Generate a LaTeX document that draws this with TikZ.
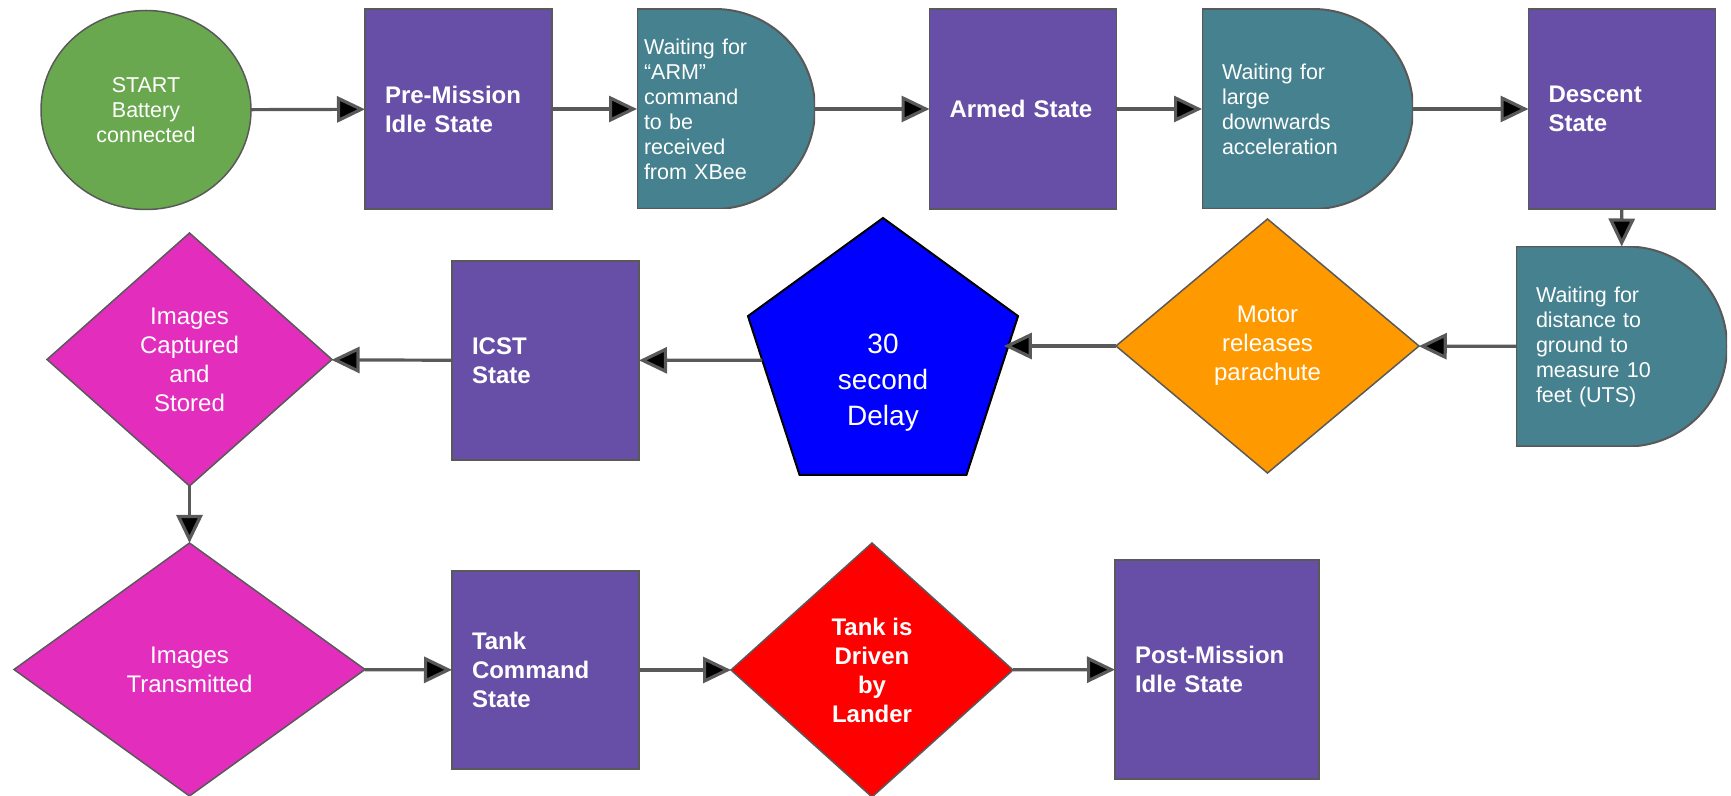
\documentclass[tikz,border=0pt]{standalone}
\usepackage{fontspec}
\setmainfont{Liberation Sans}
\usepackage{tikz}
\usetikzlibrary{arrows.meta, shapes.geometric, positioning}

\definecolor{startgreen}{HTML}{6AA84F}
\definecolor{statepurple}{HTML}{674EA7}
\definecolor{waitteal}{HTML}{45818E}
\definecolor{imgpink}{HTML}{E32EBD}
\definecolor{motororange}{HTML}{FF9900}
\definecolor{edgegray}{HTML}{595959}

\begin{document}
\begin{tikzpicture}[x=0.5pt, y=-0.5pt,
    every node/.style={text=white, outer sep=0pt, inner sep=0pt},
    smalltext/.style={font=\fontsize{10.75}{12.5}\selectfont},
    bigtext/.style={font=\fontsize{12}{14.5}\selectfont},
    statebox/.style={rectangle, fill=statepurple, draw=edgegray, line width=0.75pt, minimum width=93.5pt, minimum height=100pt, inner xsep=10pt, text width=73.5pt, align=left, font=\fontsize{12}{14.5}\selectfont\bfseries},
    waitbox/.style={rectangle, minimum height=100pt, align=left, smalltext, path picture={
        \filldraw[fill=waitteal, draw=edgegray, line width=1pt]
        (path picture bounding box.north west)
        -- ([xshift=-50pt]path picture bounding box.north east)
        arc[start angle=90, end angle=-90, radius=50pt]
        -- (path picture bounding box.south west) -- cycle;}},
    decision/.style={diamond, draw=edgegray, line width=0.75pt, align=center, bigtext},
    flow/.style={draw=edgegray, line width=1.6pt, -{Triangle[length=14pt, width=13pt]}}
]
    \useasboundingbox (0,0) rectangle (1731,796);

    \node[ellipse, fill=startgreen, draw=edgegray, line width=0.75pt, minimum width=105pt, minimum height=99.5pt, align=center, smalltext] (start) at (146, 110) {START\\Battery\\connected};
    \node[statebox] (pre) at (458.5, 109) {Pre-Mission\\Idle State};
    \node[waitbox, minimum width=89pt, inner xsep=3.5pt, text width=82pt] (arm) at (726, 109) {Waiting for\\“ARM”\\command\\to be\\received\\from XBee};
    \node[statebox] (armed) at (1023, 109) {Armed State};
    \node[waitbox, minimum width=105.5pt, inner xsep=10pt, text width=85.5pt] (accel) at (1307.5, 109) {Waiting for\\large\\downwards\\acceleration};
    \node[statebox] (descent) at (1622, 109) {Descent\\State};

    \node[waitbox, minimum width=105.5pt, inner xsep=10pt, text width=85.5pt] (ground) at (1621.5, 346.5) {Waiting for\\distance to\\ground to\\measure 10\\feet (UTS)};
    \node[decision, fill=motororange, minimum width=151.5pt, minimum height=127pt] (motor) at (1267.5, 346) {Motor\\releases\\parachute};
    \node[regular polygon, regular polygon sides=5, fill=blue, draw=black, line width=1pt, minimum size=142pt,
        label={[text=white, align=center, font=\fontsize{14}{18}\selectfont, yshift=-11.5pt]center:30\\second\\Delay}] (delay) at (883, 360) {};
    \node[statebox, minimum height=99.5pt] (icst) at (545.5, 360.5) {ICST\\State};
    \node[decision, fill=imgpink, minimum width=142.5pt, minimum height=126.5pt] (captured) at (189.5, 359.5) {Images\\Captured\\and\\Stored};

    \node[decision, fill=imgpink, minimum width=175.5pt, minimum height=126.5pt] (sent) at (189.5, 669.5) {Images\\Transmitted};
    \node[statebox, minimum height=99pt] (tank) at (545.5, 670) {Tank\\Command\\State};
    \node[decision, fill=red, minimum width=141pt, minimum height=127pt, font=\fontsize{12}{14.5}\selectfont\bfseries] (driven) at (872, 670) {Tank is\\Driven\\by\\Lander};
    \node[statebox, minimum width=102pt, minimum height=109.5pt, text width=82pt] (post) at (1217, 669.5) {Post-Mission\\Idle State};

    \draw[flow]
    (start) edge (pre)
    (pre) edge (arm)
    (arm) edge (armed)
    (armed) edge (accel)
    (accel) edge (descent)
    (descent) edge (ground)
    (ground) edge (motor)
    (motor) edge (delay.east |- motor)
    (delay) edge (icst)
    (icst) edge (captured)
    (captured) edge (sent)
    (sent) edge (tank)
    (tank) edge (driven)
    (driven) edge (post);
\end{tikzpicture}
\end{document}
